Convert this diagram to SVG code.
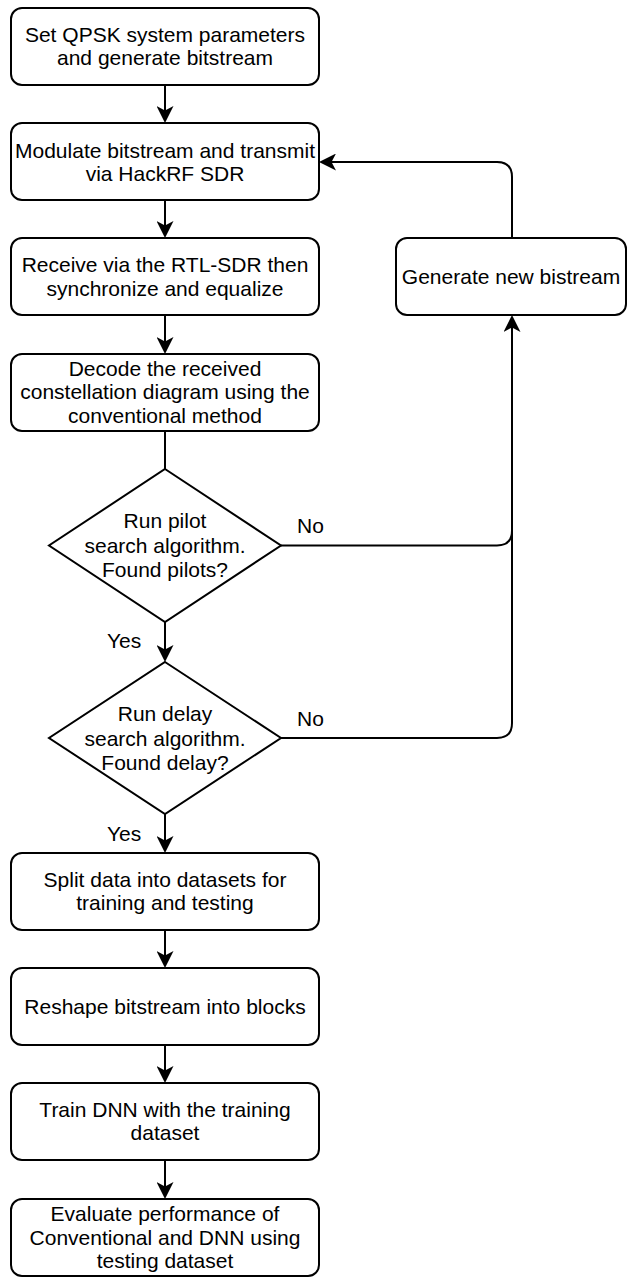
<svg xmlns="http://www.w3.org/2000/svg" width="629" height="1280" viewBox="0 0 629 1280">
<style>
.box{fill:#fff;stroke:#000;stroke-width:2}
.edge{fill:none;stroke:#000;stroke-width:2}
text{font-family:"Liberation Sans",Arial,sans-serif;font-size:21px;fill:#000}
.c{text-anchor:middle}
</style>
<defs>
<marker id="arr" viewBox="0 0 17 17" refX="13" refY="8.5" markerWidth="17" markerHeight="17" markerUnits="userSpaceOnUse" orient="auto">
<path d="M0,0 L17,8.5 L0,17 L4.5,8.5 Z" fill="#000"/>
</marker>
</defs>
<rect width="629" height="1280" fill="#fff"/>
<g id="connectors">
<path class="edge" d="M165,85 V119" marker-end="url(#arr)"/>
<path class="edge" d="M165,200 V234" marker-end="url(#arr)"/>
<path class="edge" d="M165,315 V350" marker-end="url(#arr)"/>
<path class="edge" d="M165,431 V469"/>
<path class="edge" d="M165,622 V658" marker-end="url(#arr)"/>
<path class="edge" d="M165,814 V849" marker-end="url(#arr)"/>
<path class="edge" d="M165,930 V964" marker-end="url(#arr)"/>
<path class="edge" d="M165,1045 V1079" marker-end="url(#arr)"/>
<path class="edge" d="M165,1160 V1195" marker-end="url(#arr)"/>
<path class="edge" d="M281,545.5 H497 Q512,545.5 512,530.5 V319" marker-end="url(#arr)"/>
<path class="edge" d="M281,738 H497 Q512,738 512,723 V530"/>
<path class="edge" d="M512,238 V177 Q512,162 497,162 H323" marker-end="url(#arr)"/>
<text x="297" y="533">No</text>
<text x="297" y="726">No</text>
<text x="107" y="648">Yes</text>
<text x="107" y="841">Yes</text>
</g>
<g id="n1"><rect class="box" x="11" y="8" width="308" height="77" rx="11"/>
<text class="c" x="165" y="42">Set QPSK system parameters</text>
<text class="c" x="165" y="65">and generate bitstream</text></g>
<g id="n2"><rect class="box" x="11" y="123" width="308" height="77" rx="11"/>
<text class="c" x="165" y="158">Modulate bitstream and transmit</text>
<text class="c" x="165" y="181">via HackRF SDR</text></g>
<g id="n3"><rect class="box" x="11" y="238" width="308" height="77" rx="11"/>
<text class="c" x="165" y="272">Receive via the RTL-SDR then</text>
<text class="c" x="165" y="295.5">synchronize and equalize</text></g>
<g id="n4"><rect class="box" x="11" y="354" width="308" height="77" rx="11"/>
<text class="c" x="165" y="375.5">Decode the received</text>
<text class="c" x="165" y="399">constellation diagram using the</text>
<text class="c" x="165" y="422.5">conventional method</text></g>
<g id="gen"><rect class="box" x="396" y="238" width="230" height="77" rx="11"/>
<text class="c" x="511" y="284">Generate new bistream</text></g>
<g id="d1"><path class="box" d="M165,469 L281,545.5 L165,622 L49,545.5 Z"/>
<text class="c" x="165" y="528">Run pilot</text>
<text class="c" x="165" y="552.5">search algorithm.</text>
<text class="c" x="165" y="577">Found pilots?</text></g>
<g id="d2"><path class="box" d="M165,662 L281,738 L165,814 L49,738 Z"/>
<text class="c" x="165" y="721">Run delay</text>
<text class="c" x="165" y="745.5">search algorithm.</text>
<text class="c" x="165" y="770">Found delay?</text></g>
<g id="n5"><rect class="box" x="11" y="853" width="308" height="77" rx="11"/>
<text class="c" x="165" y="887">Split data into datasets for</text>
<text class="c" x="165" y="910">training and testing</text></g>
<g id="n6"><rect class="box" x="11" y="968" width="308" height="77" rx="11"/>
<text class="c" x="165" y="1014">Reshape bitstream into blocks</text></g>
<g id="n7"><rect class="box" x="11" y="1083" width="308" height="77" rx="11"/>
<text class="c" x="165" y="1117">Train DNN with the training</text>
<text class="c" x="165" y="1140">dataset</text></g>
<g id="n8"><rect class="box" x="11" y="1199" width="308" height="77" rx="11"/>
<text class="c" x="165" y="1221">Evaluate performance of</text>
<text class="c" x="165" y="1244.5">Conventional and DNN using</text>
<text class="c" x="165" y="1268">testing dataset</text></g>
</svg>
